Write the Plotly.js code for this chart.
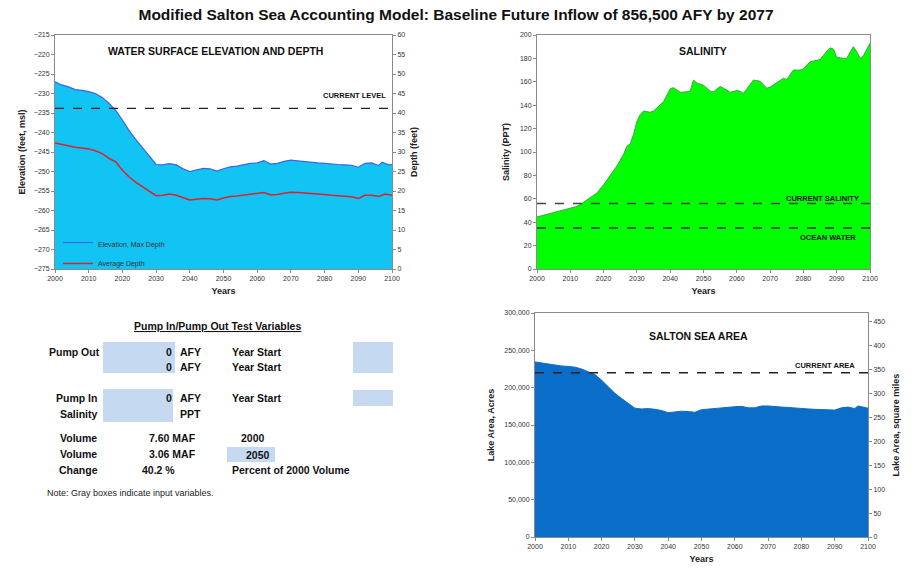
<!DOCTYPE html>
<html>
<head>
<meta charset="utf-8">
<script src="https://cdn.plot.ly/plotly-3.0.1.min.js"></script>
<style>html,body{margin:0;padding:0;background:#fff;}#chart{width:918px;height:571px;}</style>
</head>
<body>
<div id="chart"></div>
<script>
// ---------- DATA ----------
const elevYears = [2000,2002,2004,2006,2008,2010,2012,2014,2016,2018,2020,2022,2024,2026,2028,2030,2032,2034,2036,2038,2040,2042,2044,2046,2048,2050,2052,2054,2056,2058,2060,2062,2064,2066,2068,2070,2072,2074,2076,2078,2080,2082,2084,2086,2088,2090,2092,2094,2096,2097,2098,2099,2100];
const elevation = [-227,-227.8,-228.3,-229,-229.2,-229.5,-230,-231,-232.5,-234.3,-236.8,-239.5,-241.8,-244,-246.2,-248.2,-248.3,-248,-248.3,-249.3,-250,-249.6,-249.2,-249.3,-249.9,-249.3,-248.8,-248.6,-248.3,-247.9,-247.8,-247.2,-248.1,-247.9,-247.4,-247.1,-247.3,-247.5,-247.7,-247.8,-247.9,-248.1,-248.2,-248.3,-248.4,-248.9,-247.9,-247.8,-248.5,-247.6,-247.9,-248.3,-248.2];
const avgDepthYears = [2000,2002,2004,2006,2008,2010,2012,2014,2016,2018,2020,2022,2024,2026,2028,2030,2032,2034,2036,2038,2040,2042,2044,2046,2048,2050,2052,2054,2056,2058,2060,2062,2064,2066,2068,2070,2072,2074,2076,2078,2080,2082,2084,2086,2088,2090,2092,2094,2096,2098,2100];
const avgDepth = [32.3,31.9,31.6,31.2,31.0,30.8,30.3,29.6,28.4,27.5,25.3,23.6,22.2,21.0,19.8,18.8,18.9,19.2,18.9,18.3,17.7,17.9,18.1,18.0,17.7,18.2,18.6,18.7,18.9,19.2,19.3,19.6,19.0,19.1,19.4,19.7,19.6,19.5,19.3,19.2,19.1,18.9,18.8,18.6,18.5,18.1,18.9,18.9,18.6,19.2,18.9];
const bottomElevation = -275;   // sea bottom, feet msl (max depth reference)
const currentLevel = -233.8;

const salYears = [2000,2002,2004,2006,2008,2010,2012,2014,2016,2018,2020,2022,2024,2026,2027,2028,2029,2030,2031,2032,2034,2035,2037,2038,2040,2041,2042,2043,2045,2046,2047,2048,2050,2052,2053,2055,2057,2058,2060,2061,2062,2064,2065,2067,2069,2070,2072,2074,2075,2077,2079,2080,2082,2084,2085,2087,2088,2089,2090,2092,2093,2095,2096,2097,2098,2100];
const salinity = [44.5,46,47.5,49,50.5,52,53.5,57,61,65,72,80,88,98,105,107,115,126,132,135,134,135,140,143,154,155,153,151,151.5,152,161.5,159,157,152,151.5,156,153,151,152.5,152,150,157,161.5,160.5,154.5,155.5,159,163,162,170,170,171,177,178.5,179,186,189,188,181,180,180,190,186,180,182,193];
const currentSalinity = 56;
const oceanSalinity = 35;

const areaYears = [2000,2002,2004,2006,2008,2010,2012,2014,2016,2018,2020,2022,2024,2026,2028,2030,2032,2034,2036,2038,2040,2042,2044,2046,2048,2050,2052,2054,2056,2058,2060,2062,2064,2066,2068,2070,2072,2074,2076,2078,2080,2082,2084,2086,2088,2090,2092,2094,2096,2097,2100];
const areaAcres = [234500,233000,231500,230000,229000,228500,227500,225000,221500,217500,210000,201000,192500,185500,179000,172500,171500,172000,171000,169500,166500,167500,168500,168000,167000,170500,171500,171500,172500,173500,174500,175000,173000,173000,175500,175500,174500,174000,173500,172500,172000,171500,171000,171000,170500,170000,173000,174000,172000,175500,172500];
const currentArea = 220000;
const acresPerSqMile = 640;

const yearTicks = [2000,2010,2020,2030,2040,2050,2060,2070,2080,2090,2100];

// ---------- helpers (layout only) ----------
const W = 918, H = 571;
const px = v => v / W;
const py = v => 1 - v / H;
const FONT = 'Liberation Sans, Arial, sans-serif';
const maxDepth = elevation.map(e => e - bottomElevation);
const currentLevelDepth = currentLevel - bottomElevation;

const axisBase = {
  showgrid: false, zeroline: false, showline: true, linecolor: '#8a8a8a', linewidth: 1,
  mirror: true, ticks: 'outside', ticklen: 3, tickcolor: '#8a8a8a',
  tickfont: {family: FONT, size: 7, color: '#333'}, fixedrange: true
};
const titleFont = {family: FONT, size: 9, color: '#222', weight: 'bold'};

function xAxis(domain, anchor) {
  return Object.assign({}, axisBase, {
    domain: domain, anchor: anchor, range: [2000, 2100], tickvals: yearTicks,
    title: {text: 'Years', font: titleFont, standoff: 6}
  });
}

// ---------- traces ----------
const traces = [
  // left elevation axis carrier (invisible)
  {x: [2000], y: [bottomElevation], xaxis: 'x', yaxis: 'y', type: 'scatter', mode: 'markers',
   marker: {opacity: 0}, showlegend: false, hoverinfo: 'skip'},
  {x: elevYears, y: maxDepth, xaxis: 'x', yaxis: 'y2', type: 'scatter', mode: 'lines',
   fill: 'tozeroy', fillcolor: '#11c4f4', line: {color: '#3d63e6', width: 1.2},
   name: 'Elevation, Max Depth', showlegend: true},
  {x: avgDepthYears, y: avgDepth, xaxis: 'x', yaxis: 'y2', type: 'scatter', mode: 'lines',
   line: {color: '#e0202a', width: 1.5}, name: 'Average Depth', showlegend: true},
  {x: [2000, 2100], y: [currentLevelDepth, currentLevelDepth], xaxis: 'x', yaxis: 'y2', type: 'scatter',
   mode: 'lines', line: {color: '#222', width: 1.3, dash: 'dash'}, showlegend: false, hoverinfo: 'skip'},

  {x: salYears, y: salinity, xaxis: 'x2', yaxis: 'y3', type: 'scatter', mode: 'lines',
   fill: 'tozeroy', fillcolor: '#00ff00', line: {color: '#3aa83a', width: 1}, showlegend: false},
  {x: [2000, 2100], y: [currentSalinity, currentSalinity], xaxis: 'x2', yaxis: 'y3', type: 'scatter',
   mode: 'lines', line: {color: '#444', width: 1.5, dash: 'dash'}, showlegend: false, hoverinfo: 'skip'},
  {x: [2000, 2100], y: [oceanSalinity, oceanSalinity], xaxis: 'x2', yaxis: 'y3', type: 'scatter',
   mode: 'lines', line: {color: '#333', width: 1.5, dash: 'dash'}, showlegend: false, hoverinfo: 'skip'},

  {x: areaYears, y: areaAcres, xaxis: 'x3', yaxis: 'y4', type: 'scatter', mode: 'lines',
   fill: 'tozeroy', fillcolor: '#0a6ec8', line: {color: '#0a6ec8', width: 1}, showlegend: false},
  {x: [2000, 2100], y: [currentArea, currentArea], xaxis: 'x3', yaxis: 'y4', type: 'scatter',
   mode: 'lines', line: {color: '#222', width: 1.3, dash: 'dash'}, showlegend: false, hoverinfo: 'skip'},
  // invisible trace so the square-mile axis is drawn
  {x: [2000], y: [0], xaxis: 'x3', yaxis: 'y5', type: 'scatter', mode: 'markers',
   marker: {opacity: 0}, showlegend: false, hoverinfo: 'skip'}
];

// ---------- annotations ----------
const bold = (s, size, x, y, xa, extra) => Object.assign({
  text: s, xref: 'paper', yref: 'paper', x: px(x), y: py(y), xanchor: xa || 'center', yanchor: 'middle',
  showarrow: false, font: {family: FONT, size: size, color: '#111', weight: 'bold'}
}, extra || {});

const annotations = [
  bold('WATER SURFACE ELEVATION AND DEPTH', 10.5, 215, 51),
  bold('CURRENT LEVEL', 7.5, 388, 95, 'right'),
  bold('SALINITY', 10.5, 703, 51),
  bold('CURRENT SALINITY', 7.5, 861, 198, 'right'),
  bold('OCEAN WATER', 7.5, 858, 237, 'right'),
  bold('SALTON SEA AREA', 10.5, 698, 336),
  bold('CURRENT AREA', 7.5, 857, 365, 'right'),

  bold('<span style="text-decoration:underline">Pump In/Pump Out Test Variables</span>', 10.5, 217, 326),
  bold('Pump Out', 10.5, 102, 352, 'right'),
  bold('0', 10.5, 174, 352, 'right'), bold('AFY', 10.5, 178, 352, 'left'),
  bold('Year Start', 10.5, 230, 352, 'left'),
  bold('0', 10.5, 174, 367, 'right'), bold('AFY', 10.5, 178, 367, 'left'),
  bold('Year Start', 10.5, 230, 367, 'left'),
  bold('Pump In', 10.5, 99, 398, 'right'),
  bold('0', 10.5, 174, 398, 'right'), bold('AFY', 10.5, 178, 398, 'left'),
  bold('Year Start', 10.5, 230, 398, 'left'),
  bold('Salinity', 10.5, 100, 414, 'right'),
  bold('PPT', 10.5, 178, 414, 'left'),
  bold('Volume', 10.5, 78, 438), bold('7.60 MAF', 10.5, 172, 438), bold('2000', 10.5, 253, 438),
  bold('Volume', 10.5, 78, 454), bold('3.06 MAF', 10.5, 172, 454), bold('2050', 10.5, 272, 455, 'right'),
  bold('Change', 10.5, 78, 470), bold('40.2 %', 10.5, 140, 470, 'left'),
  bold('Percent of 2000 Volume', 10.5, 230, 470, 'left'),
  {text: 'Note: Gray boxes indicate input variables.', xref: 'paper', yref: 'paper', x: px(45), y: py(493),
   xanchor: 'left', yanchor: 'middle', showarrow: false, font: {family: FONT, size: 9, color: '#222'}}
];

const box = (x0, y0, x1, y1) => ({type: 'rect', xref: 'paper', yref: 'paper', x0: px(x0), x1: px(x1),
  y0: py(y1), y1: py(y0), fillcolor: '#c5d9f0', line: {width: 0}, layer: 'below'});
const shapes = [
  box(103, 342, 175, 373), box(353, 342, 393, 373),
  box(103, 389, 173, 422), box(353, 390, 393, 406),
  box(227, 447, 275, 462)
];

// ---------- layout ----------
const layout = {
  width: W, height: H, margin: {l: 0, r: 0, t: 0, b: 0},
  paper_bgcolor: '#fff', plot_bgcolor: '#fff', font: {family: FONT},
  title: {text: 'Modified Salton Sea Accounting Model: Baseline Future Inflow of 856,500 AFY by 2077',
          font: {family: FONT, size: 15.5, color: '#111', weight: 'bold'},
          x: px(456), xanchor: 'center', y: py(15), yanchor: 'middle', xref: 'paper', yref: 'paper'},
  showlegend: true,
  legend: {x: px(58), y: py(230), xanchor: 'left', yanchor: 'top', bgcolor: 'rgba(0,0,0,0)',
           font: {family: FONT, size: 7, color: '#333'}, itemwidth: 30, tracegroupgap: 0},

  xaxis: xAxis([px(55), px(392)], 'y'),
  yaxis: Object.assign({}, axisBase, {domain: [py(269), py(35)], anchor: 'x', range: [-275, -215], dtick: 5,
    title: {text: 'Elevation (feet, msl)', font: titleFont, standoff: 6}}),
  yaxis2: Object.assign({}, axisBase, {domain: [py(269), py(35)], anchor: 'x', overlaying: 'y', side: 'right',
    range: [0, 60], dtick: 5, mirror: false, title: {text: 'Depth (feet)', font: titleFont, standoff: 6}}),

  xaxis2: xAxis([px(537), px(870)], 'y3'),
  yaxis3: Object.assign({}, axisBase, {domain: [py(269), py(35)], anchor: 'x2', range: [0, 200], dtick: 20,
    title: {text: 'Salinity (PPT)', font: titleFont, standoff: 8}}),

  xaxis3: xAxis([px(535), px(868)], 'y4'),
  yaxis4: Object.assign({}, axisBase, {domain: [py(537), py(313)], anchor: 'x3', range: [0, 300000],
    dtick: 50000, tickformat: ',d', title: {text: 'Lake Area, Acres', font: titleFont, standoff: 8}}),
  yaxis5: Object.assign({}, axisBase, {domain: [py(537), py(313)], anchor: 'x3', overlaying: 'y4', side: 'right',
    range: [0, 300000 / acresPerSqMile], dtick: 50, mirror: false,
    title: {text: 'Lake Area, square miles', font: titleFont, standoff: 8}}),

  annotations: annotations,
  shapes: shapes
};

Plotly.newPlot('chart', traces, layout, {staticPlot: true, displayModeBar: false});
</script>
</body>
</html>
